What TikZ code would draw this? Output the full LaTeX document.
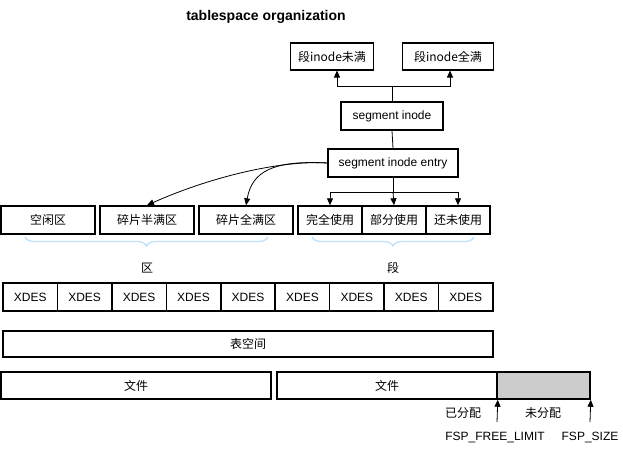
\documentclass[tikz,border=0pt]{standalone}
\usepackage{fontspec}
\setmainfont{Liberation Sans}
\newfontfamily\cjk{Noto Sans CJK SC}
\usetikzlibrary{arrows.meta,decorations.pathreplacing}
\definecolor{bracecol}{HTML}{BEE3FA}
\definecolor{grayfill}{HTML}{CCCCCC}
\begin{document}
\begin{tikzpicture}[x=1pt,y=-1pt,
  bx/.style={draw,line width=1.5pt,inner sep=0pt,font=\fontsize{12}{14}\selectfont},
  arr/.style={-{Triangle[length=7pt,width=6pt]},line width=0.8pt},
  ln/.style={line width=0.8pt},
  brc/.style={draw=bracecol,line width=1.4pt,decorate,decoration={brace,mirror,amplitude=9pt}},
  lbl/.style={font=\fontsize{12}{14}\selectfont}]
\useasboundingbox (0,0) rectangle (623,450);
\node[font=\bfseries\fontsize{14}{16}\selectfont] (title) at (266,17) {tablespace organization};
% top boxes
\node[bx,minimum width=83pt,minimum height=27pt] (t1) at (332,56.5) {\cjk 段inode未满};
\node[bx,minimum width=91pt,minimum height=27pt] (t2) at (448,56.5) {\cjk 段inode全满};
\node[bx,minimum width=102pt,minimum height=28pt] (si) at (392,116) {segment inode};
\node[bx,minimum width=130pt,minimum height=28pt] (se) at (393,163) {segment inode entry};
% row boxes
\node[bx,minimum width=94pt,minimum height=28pt] (b1) at (48,220) {\cjk 空闲区};
\node[bx,minimum width=94pt,minimum height=28pt] (b2) at (147,220) {\cjk 碎片半满区};
\node[bx,minimum width=94pt,minimum height=28pt] (b3) at (246,220) {\cjk 碎片全满区};
\node[bx,minimum width=64pt,minimum height=28pt] (b4) at (330,220) {\cjk 完全使用};
\node[bx,minimum width=64pt,minimum height=28pt] (b5) at (394,220) {\cjk 部分使用};
\node[bx,minimum width=64pt,minimum height=28pt] (b6) at (458,220) {\cjk 还未使用};
% connectors top
\coordinate (j1) at (392,86);
\draw[ln] (si.north) -- (j1);
\draw[arr] (j1) -| (337,70.5);
\draw[arr] (j1) -| (450,70.5);
\draw[ln] (si.south) -- (se.north);
\coordinate (j2) at (393,192);
\draw[ln] (se.south) -- (j2);
\draw[arr] (j2) -| (b4.north);
\draw[arr] (j2) -- (b5.north);
\draw[arr] (j2) -| (b6.north);
\draw[arr] (se.west) .. controls (285,160) and (215,175) .. (b2.north);
\draw[arr] (se.west) .. controls (272,160) and (252,172) .. (b3.north);
% braces
\draw[brc] (25,237) -- (268,237);
\node[lbl] (lq) at (147,268) {\cjk 区};
\draw[brc] (312,237) -- (474,237);
\node[lbl] (ld) at (393,268) {\cjk 段};
% XDES
\foreach \i in {0,...,8}{
  \node[bx,minimum width=54.44pt,minimum height=28pt] (x\i) at ({3+54.44*(\i+0.5)},297) {XDES};
}
\node[bx,minimum width=490pt,minimum height=26pt] (ts) at (248,344) {\cjk 表空间};
% files
\node[bx,minimum width=270pt,minimum height=27pt] (f1) at (136,385.5) {\cjk 文件};
\node[bx,minimum width=220pt,minimum height=27pt] (f2) at (387,385.5) {\cjk 文件};
\node[bx,fill=grayfill,minimum width=93pt,minimum height=27pt] (f3) at (543.5,385.5) {};
\coordinate (a1) at (497,422);
\coordinate (a2) at (590,422);
\draw[arr] (a1) -- (f2.south east);
\draw[arr] (a2) -- (f3.south east);
\node[lbl] (l1) at (463,413) {\cjk 已分配};
\node[lbl] (l2) at (543,413) {\cjk 未分配};
\node[lbl] (l3) at (495,437) {FSP\_FREE\_LIMIT};
\node[lbl] (l4) at (590,437) {FSP\_SIZE};
\end{tikzpicture}
\end{document}
